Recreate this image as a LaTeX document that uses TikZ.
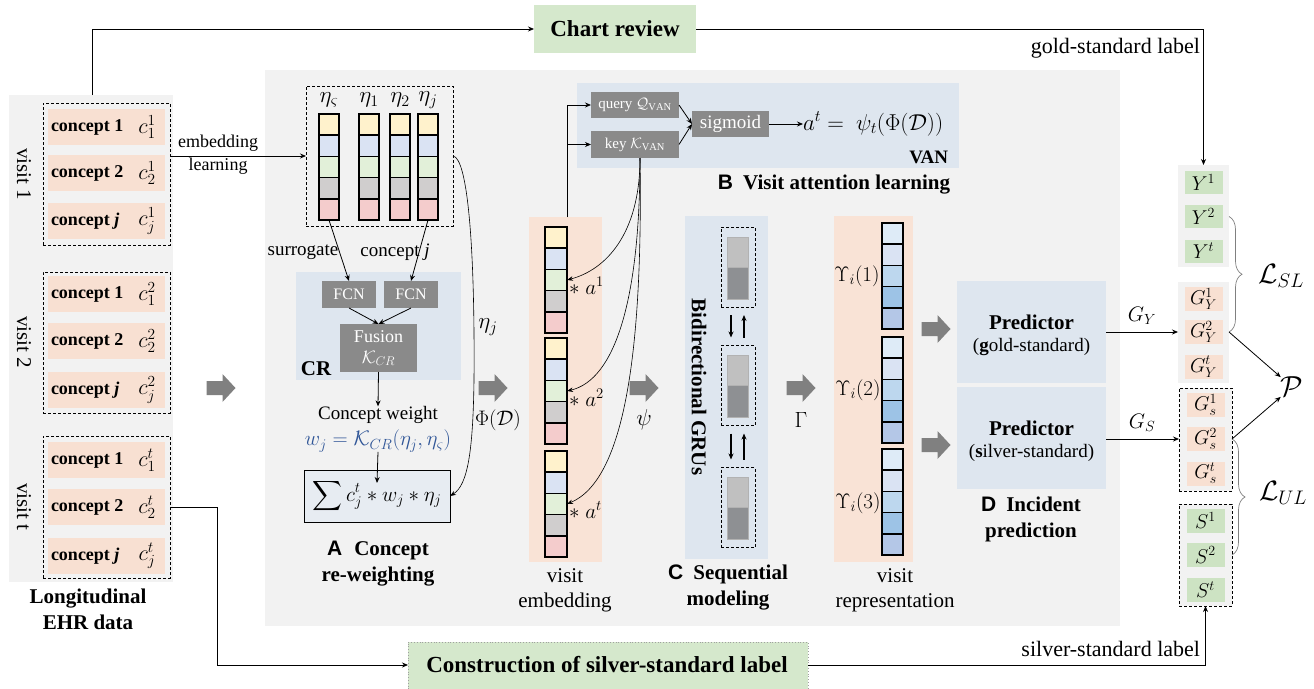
\RequirePackage{fix-cm}
\documentclass[tikz,border=0pt]{standalone}
\usepackage{amsmath}
\usepackage{fontspec}
\setmainfont{Liberation Serif}
\setsansfont{Liberation Sans}
\usetikzlibrary{arrows.meta,decorations.pathreplacing}

\definecolor{panel}{HTML}{F2F2F2}
\definecolor{peach}{HTML}{F8E0D2}
\definecolor{orangebg}{HTML}{F9E3D6}
\definecolor{bluebg}{HTML}{DEE6EF}
\definecolor{boxgray}{HTML}{8A8A8A}
\definecolor{labgreen}{HTML}{D5E8CC}
\definecolor{ygreen}{HTML}{CDE3C3}
\definecolor{eyel}{HTML}{FFF2CC}
\definecolor{eblu}{HTML}{DAE3F3}
\definecolor{egrn}{HTML}{E2F0D9}
\definecolor{egry}{HTML}{D0CECE}
\definecolor{epnk}{HTML}{F4CCCC}
\definecolor{rblA}{HTML}{DEEBF7}
\definecolor{rblB}{HTML}{DAE3F3}
\definecolor{rblC}{HTML}{BDD7EE}
\definecolor{rblD}{HTML}{9DC3E6}
\definecolor{rblE}{HTML}{B4C7E7}
\definecolor{grulight}{HTML}{C0C0C0}
\definecolor{grudark}{HTML}{8E9093}
\definecolor{sumfill}{HTML}{E7ECF2}
\definecolor{wblue}{HTML}{2F5597}
\definecolor{fatgray}{HTML}{808080}
\definecolor{bracegray}{HTML}{808080}
\definecolor{dotgray}{HTML}{A0A0A0}

% one concept row: name, y, label, value
\newcommand\conceptrow[4]{%
  \node[crow] (#1) at (106.5,#2) {};
  \node[ctext, anchor=west] at ([xshift=3pt]#1.west) {#3};
  \node[cmath] at ([xshift=-18pt]#1.east) {#4};}

% a vertical stack of five cells: name, x, top, width, cell height, colours
\newcommand\colstack[6]{%
  \node[minimum width=#4, minimum height={5*#5}] (#1) at (#2,{#3+2.5*#5}) {};
  \foreach \clr [count=\k from 0] in {#6}
    \node[sq, minimum width=#4, minimum height=#5, fill=\clr] at (#2,{#3+(\k+0.5)*#5}) {};}

% one GRU cell: name, centre y
\newcommand\grucell[2]{%
  \node[dashedbox, minimum width=34, minimum height=80] (#1) at (738,#2) {};
  \filldraw[grulight, draw=gray!60, line width=0.4pt] (727.5,{#2-30}) rectangle (748.5,{#2});
  \filldraw[grudark, draw=gray!60, line width=0.4pt] (727.5,{#2}) rectangle (748.5,{#2+32});}

\tikzset{
  fatarrow/.pic={\fill[fatgray] (-14.5,-7) -- (1.5,-7) -- (1.5,-14) -- (14.5,0) -- (1.5,14) -- (1.5,7) -- (-14.5,7) -- cycle;},
  fnt/.style 2 args={font=\fontsize{#1}{#2}\selectfont},
  fntb/.style 2 args={font=\fontsize{#1}{#2}\selectfont\bfseries},
}

\begin{document}
\begin{tikzpicture}[x=1pt,y=-1pt,
  every node/.style={inner sep=0pt, outer sep=0pt},
  arr/.style={-{Stealth[length=6pt,width=5pt]}, line width=0.8pt},
  thinarr/.style={-{Stealth[length=6pt,width=4.5pt]}, line width=0.6pt},
  dashedbox/.style={draw, dashed, line width=0.8pt, dash pattern=on 3pt off 2pt},
  crow/.style={fill=peach, minimum width=117, minimum height=36},
  ctext/.style={fntb={18}{21}},
  cmath/.style={fnt={22}{24}},
  sq/.style={draw, line width=1.5pt},
  graybox/.style={fill=boxgray, text=white},
  ybox/.style={fill=ygreen, minimum width=38, minimum height=23, fnt={20}{20}},
  gbox/.style={fill=peach, minimum width=38, minimum height=24, fnt={20}{20}},
  captext/.style={fntb={21}{26}, align=center},
  labtext/.style={fnt={21}{25}, align=center},
]
\useasboundingbox (0,0) rectangle (1314,688);

% ---------- background panels ----------
\node[fill=panel, minimum width=164, minimum height=487] (ehr) at (91,338.5) {};
\node[fill=panel, minimum width=855, minimum height=556] (mainpanel) at (692.5,348) {};

% ---------- chart review ----------
\node[fill=labgreen, minimum width=162, minimum height=48, fntb={23}{26}] (chart) at (615,29) {Chart review};
\draw[arr] ([xshift=1pt]ehr.north) |- (chart.west);

% ---------- longitudinal EHR data ----------
\node[dashedbox, minimum width=127, minimum height=142] (visit1) at (106.5,174) {};
\node[dashedbox, minimum width=127, minimum height=141] (visit2) at (106.5,342.5) {};
\node[dashedbox, minimum width=127, minimum height=142] (visitt) at (106.5,507) {};

\conceptrow{v1a}{127}{concept 1}{$c_1^1$}
\conceptrow{v1b}{173}{concept 2}{$c_2^1$}
\conceptrow{v1c}{221}{concept \textit{j}}{$c_j^1$}
\conceptrow{v2a}{294}{concept 1}{$c_1^2$}
\conceptrow{v2b}{341}{concept 2}{$c_2^2$}
\conceptrow{v2c}{390}{concept \textit{j}}{$c_j^2$}
\conceptrow{vta}{460}{concept 1}{$c_1^t$}
\conceptrow{vtb}{507}{concept 2}{$c_2^t$}
\conceptrow{vtc}{556}{concept \textit{j}}{$c_j^t$}

\node[fnt={21}{24}, rotate=-90] (vl1) at (24,174) {visit 1};
\node[fnt={21}{24}, rotate=-90] (vl2) at (24,342) {visit 2};
\node[fnt={21}{24}, rotate=-90] (vlt) at (24,507) {visit t};

\node[captext] (ehrcap) at (88,609) {Longitudinal\\EHR data};
\pic at (221,388) {fatarrow};

% ---------- A: concept re-weighting ----------
\node[dashedbox, minimum width=147, minimum height=140] (etabox) at (379.5,156) {};
\colstack{etaS}{329}{114}{20}{21.2}{eyel,eblu,egrn,egry,epnk}
\colstack{eta1}{369}{114}{20}{21.2}{eyel,eblu,egrn,egry,epnk}
\colstack{eta2}{400}{114}{20}{21.2}{eyel,eblu,egrn,egry,epnk}
\colstack{etaJ}{428}{114}{20}{21.2}{eyel,eblu,egrn,egry,epnk}
\node[fnt={23}{24}] (lS) at (329,100) {$\eta_\varsigma$};
\node[fnt={23}{24}] (l1) at (369,100) {$\eta_1$};
\node[fnt={23}{24}] (l2) at (400,100) {$\eta_2$};
\node[fnt={23}{24}] (lJ) at (428,100) {$\eta_j$};

\draw[arr] (visit1.east |- etabox.west) -- (etabox.west);
\node[fnt={18}{23}, align=center] (emblab) at (218,155) {embedding\\learning};

\node[fill=bluebg, minimum width=165, minimum height=108] (crpanel) at (378.5,326) {};
\node[fntb={21}{24}] (crlab) at (316,369) {CR};
\node[graybox, minimum width=54, minimum height=27, fnt={16}{18}] (fcn1) at (349,294.5) {FCN};
\node[graybox, minimum width=54, minimum height=27, fnt={16}{18}] (fcn2) at (411,294.5) {FCN};
\node[graybox, minimum width=77, minimum height=48, fnt={18}{21}, align=center] (fusion) at (378.5,348) {Fusion\\$\mathcal{K}_{CR}$};

\draw[arr] (etaS.south) -- (fcn1.north);
\draw[arr] (etaJ.south) -- (fcn2.north);
\node[fnt={19}{22}] (surr) at (303,252) {surrogate};
\node[fnt={19}{22}] (concj) at (395,252) {concept \textit{j}};
\draw[arr] (fcn1.south) -- (fusion.north);
\draw[arr] (fcn2.south) -- (fusion.north);

\node[fnt={19}{22}] (cw) at (378,415) {Concept weight};
\draw[arr] (fusion.south) -- (cw.north);
\node[fnt={21}{24}, text=wblue] (wj) at (378,441) {$w_j = \mathcal{K}_{CR}(\eta_j, \eta_\varsigma)$};
\node[draw, line width=1pt, fill=sumfill, minimum width=146, minimum height=52, fnt={21}{24}] (sumbox) at (377,496) {$\displaystyle\sum c_j^t * w_j * \eta_j$};
\draw[arr] (wj.south) -- ([yshift=-13pt]sumbox.north);

\draw[thinarr] (etabox.east) .. controls (468,158) and (475,250) .. (474,380)
  .. controls (473,450) and (468,485) .. (sumbox.east);
\node[fnt={23}{24}] (etajlab) at (488,327) {$\eta_j$};
\node[fnt={21}{24}] (phid) at (498,420) {$\Phi(\mathcal{D})$};
\pic at (493,388) {fatarrow};

\node[captext] (capA) at (378,564) {{\sffamily A}\hspace{12pt}Concept\\re-weighting};

% ---------- B: visit attention ----------
\node[fill=bluebg, minimum width=382, minimum height=85] (vanpanel) at (768,125.5) {};
\node[graybox, minimum width=88, minimum height=26, fnt={15}{18}] (query) at (635,105) {query $\mathcal{Q}_{\mathrm{VAN}}$};
\node[graybox, minimum width=88, minimum height=27, fnt={15}{18}] (key) at (635,144.5) {key $\mathcal{K}_{\mathrm{VAN}}$};
\node[graybox, minimum width=77, minimum height=26, fnt={19}{22}] (sigm) at (730.5,124) {sigmoid};
\node[fnt={23}{26}, anchor=west] (atform) at (803,124) {$a^t =\ \psi_t(\Phi(\mathcal{D}))$};
\draw[arr] (query.east) -- (sigm.west);
\draw[arr] (key.east) -- (sigm.west);
\draw[arr] (sigm.east) -- (atform.west);
\node[fntb={19}{22}, anchor=east] (vanlab) at (948,157) {VAN};
\node[fntb={21}{24}] (capB) at (834,185) {{\sffamily B}\hspace{10pt}Visit attention learning};

% ---------- visit embedding ----------
\node[fill=orangebg, minimum width=73, minimum height=345] (embpanel) at (565.5,389.5) {};
\colstack{emb1}{556}{227}{22}{21.2}{eyel,eblu,egrn,egry,epnk}
\colstack{emb2}{556}{338}{22}{21.2}{eyel,eblu,egrn,egry,epnk}
\colstack{emb3}{556}{451}{22}{21.2}{eyel,eblu,egrn,egry,epnk}
\node[fnt={21}{24}, anchor=west] (a1) at (569,286) {$*\;a^1$};
\node[fnt={21}{24}, anchor=west] (a2) at (569,398) {$*\;a^2$};
\node[fnt={21}{24}, anchor=west] (a3) at (569,510) {$*\;a^t$};
\node[labtext] (embcap) at (565,590) {visit\\embedding};

\draw[arr] (embpanel.north -| emb1.east) |- (query.west);
\draw[arr] (embpanel.north -| emb1.east) |- (key.west);
\draw[thinarr] ([xshift=5pt]key.south) .. controls (640,235) and (605,270) .. (emb1.east);
\draw[thinarr] ([xshift=5pt]key.south) .. controls (640,300) and (615,380) .. (emb2.east);
\draw[thinarr] ([xshift=5pt]key.south) .. controls (643,350) and (625,480) .. (emb3.east);

\pic at (644,388) {fatarrow};
\node[fnt={23}{24}] (psilab) at (644,420) {$\psi$};

% ---------- C: sequential modeling ----------
\node[fill=bluebg, minimum width=83, minimum height=343] (grupanel) at (726.5,387.5) {};
\node[fntb={21}{24}, rotate=-90] (grulab) at (699,387) {Bidirectional GRUs};
\grucell{gru1}{267}
\grucell{gru2}{385.5}
\grucell{gru3}{507.5}
\draw[arr, line width=1.3pt] ([xshift=-7pt,yshift=-8pt]gru1.south) -- ([xshift=-7pt,yshift=8pt]gru2.north);
\draw[arr, line width=1.3pt] ([xshift=6pt,yshift=8pt]gru2.north) -- ([xshift=6pt,yshift=-8pt]gru1.south);
\draw[arr, line width=1.3pt] ([xshift=-7pt,yshift=-8pt]gru2.south) -- ([xshift=-7pt,yshift=8pt]gru3.north);
\draw[arr, line width=1.3pt] ([xshift=6pt,yshift=8pt]gru3.north) -- ([xshift=6pt,yshift=-8pt]gru2.south);
\node[captext] (capC) at (728,587) {{\sffamily C}\hspace{10pt}Sequential\\modeling};

\pic at (801,388) {fatarrow};
\node[fnt={22}{24}] (gamlab) at (801,420) {$\Gamma$};

% ---------- visit representation ----------
\node[fill=orangebg, minimum width=79, minimum height=346] (reppanel) at (873.5,389) {};
\colstack{rep1}{892.5}{223}{21}{21.2}{rblA,rblB,rblC,rblD,rblE}
\colstack{rep2}{892.5}{337}{21}{21.2}{rblA,rblB,rblC,rblD,rblE}
\colstack{rep3}{892.5}{449}{21}{21.2}{rblA,rblB,rblC,rblD,rblE}
\node[fnt={21}{24}] (u1) at (857,276) {$\Upsilon_i(1)$};
\node[fnt={21}{24}] (u2) at (858,390) {$\Upsilon_i(2)$};
\node[fnt={21}{24}] (u3) at (858,503) {$\Upsilon_i(3)$};
\node[labtext] (repcap) at (895,590) {visit\\representation};

\pic at (936,329) {fatarrow};
\pic at (936,445) {fatarrow};

% ---------- D: incident prediction ----------
\node[fill=bluebg, minimum width=149, minimum height=102] (predg) at (1031.5,332) {};
\node[fntb={21}{24}] (predgt) at (1031.5,322) {Predictor};
\node[fnt={19}{22}] (predgs) at (1031.5,347) {(\textbf{g}old-standard)};
\node[fill=bluebg, minimum width=149, minimum height=102] (preds) at (1031.5,438) {};
\node[fntb={21}{24}] (predst) at (1031.5,428) {Predictor};
\node[fnt={19}{22}] (predss) at (1031.5,453) {(\textbf{s}ilver-standard)};
\node[captext] (capD) at (1031,519) {{\sffamily D}\hspace{10pt}Incident\\prediction};

% ---------- labels and outputs ----------
\node[fill=panel, minimum width=51, minimum height=102] (ybg) at (1203.5,216) {};
\node[ybox] (y1) at (1203.5,182.5) {$Y^1$};
\node[ybox] (y2) at (1203.5,216.5) {$Y^2$};
\node[ybox] (yt) at (1203.5,251) {$Y^t$};

\node[fill=panel, minimum width=51, minimum height=101] (gybg) at (1203.5,332.5) {};
\node[gbox] (gy1) at (1203.5,299) {$G_Y^1$};
\node[gbox] (gy2) at (1203.5,332) {$G_Y^2$};
\node[gbox] (gyt) at (1203.5,367) {$G_Y^t$};

\node[dashedbox, fill=panel, minimum width=53, minimum height=103] (gsbox) at (1205.5,439.5) {};
\node[gbox] (gs1) at (1205.5,405) {$G_s^1$};
\node[gbox] (gs2) at (1205.5,439) {$G_s^2$};
\node[gbox] (gst) at (1205.5,473.5) {$G_s^t$};

\node[dashedbox, fill=panel, minimum width=53, minimum height=102] (sbox) at (1205.5,555) {};
\node[ybox, minimum height=24] (s1) at (1205.5,520.5) {$S^1$};
\node[ybox, minimum height=24] (s2) at (1205.5,555) {$S^2$};
\node[ybox, minimum height=24] (st) at (1205.5,589.5) {$S^t$};

\draw[arr] (predg.east |- gy2) -- (gybg.west |- gy2);
\node[fnt={21}{22}] (gylab) at (1142,316) {$G_Y$};
\draw[arr] (preds.east |- gs2) -- (gsbox.west |- gs2);
\node[fnt={21}{22}] (gslab) at (1142,423) {$G_S$};

\draw[bracegray, line width=0.7pt, decorate, decoration={brace, amplitude=13pt}] (gybg.east |- y2) -- (gybg.east |- gy2);
\node[fnt={28}{30}] (lsl) at (1281,276) {$\mathcal{L}_{SL}$};
\draw[bracegray, line width=0.7pt, decorate, decoration={brace, amplitude=13pt}] (gsbox.east |- gs2) -- (sbox.east |- s2);
\node[fnt={28}{30}] (lul) at (1283,493) {$\mathcal{L}_{UL}$};

\node[fnt={29}{30}] (P) at (1292,387) {$\mathcal{P}$};
\draw[arr] (gybg.east |- gy2) -- (P.north west);
\draw[arr] (gsbox.east |- gs2) -- (P.south west);

% gold-standard label path
\draw[arr] (chart.east) -| (ybg.north);
\node[fnt={22}{24}, anchor=east] (goldlab) at (1200,48) {gold-standard label};

% ---------- silver-standard label construction ----------
\node[draw=dotgray, dotted, line width=0.8pt, fill=labgreen, minimum width=400, minimum height=58] (constr) at (608,671) {};
\node[fntb={23}{26}] (constrtext) at (607,665) {Construction of silver-standard label};
\draw[arr] (visitt.east |- vtb) -- (217,507) -- (217,665) -- (constr.west |- constrtext);
\draw[arr] (constr.east |- constrtext) -| (sbox.south);
\node[fnt={22}{24}, anchor=east] (silverlab) at (1200,649) {silver-standard label};
\end{tikzpicture}
\end{document}
